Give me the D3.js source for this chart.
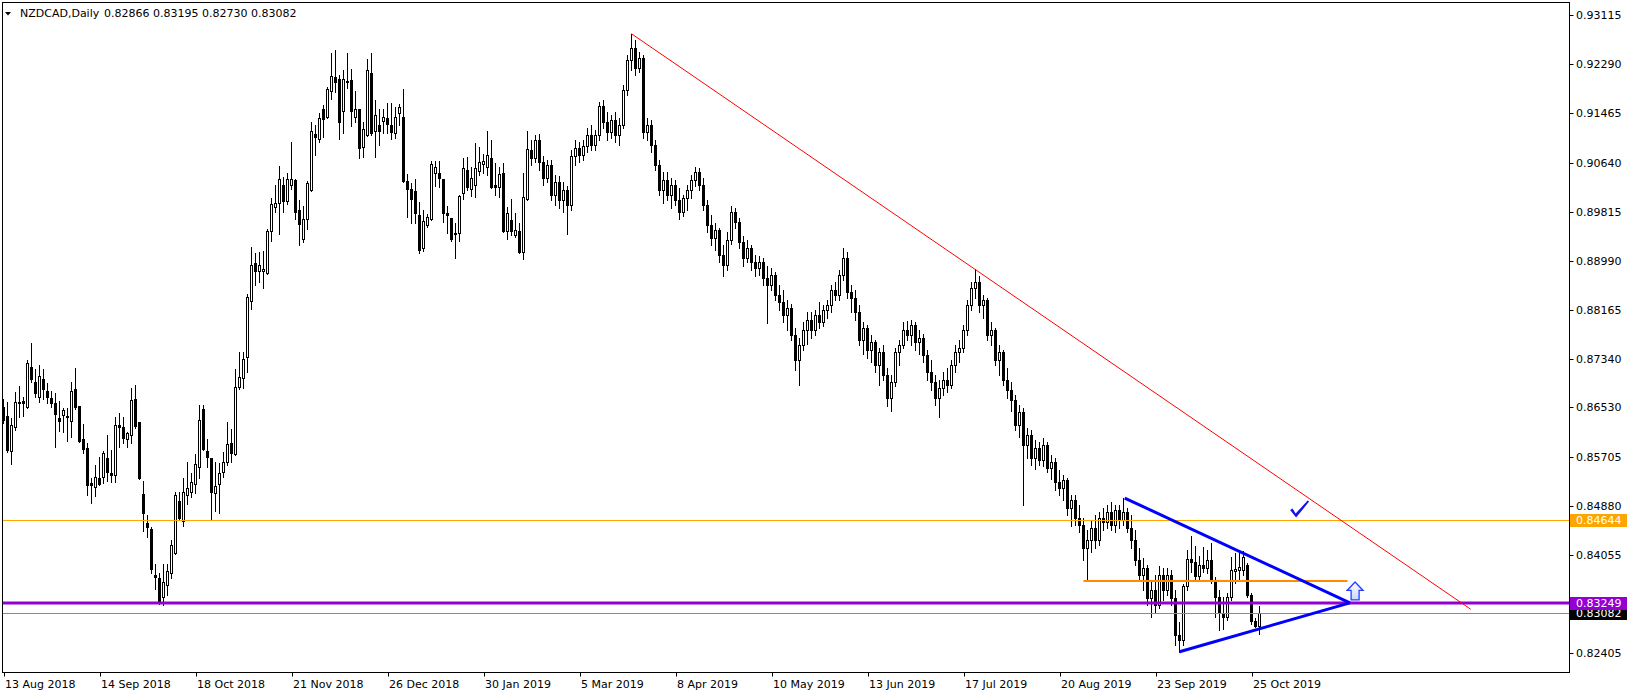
<!DOCTYPE html>
<html><head><meta charset="utf-8">
<script src="https://cdn.jsdelivr.net/npm/d3@7"></script>
<style>
body{margin:0;background:#fff}
svg{display:block}
text{font-family:"DejaVu Sans",Verdana,sans-serif;font-size:11px}
</style></head>
<body><svg id="c" width="1633" height="696"></svg>
<script>
const symbolTitle = "NZDCAD,Daily";
const headerValues = ["0.82866", "0.83195", "0.82730", "0.83082"];

const opens = [
0.8654,0.8639,0.8580,0.8620,0.8660,0.8664,0.8654,0.8721,0.8696,0.8671,
0.8701,0.8681,0.8669,0.8660,0.8635,0.8640,0.8639,0.8630,0.8684,0.8655,
0.8600,0.8585,0.8526,0.8520,0.8535,0.8536,0.8568,0.8543,0.8540,0.8624,
0.8620,0.8600,0.8607,0.8667,0.8629,0.8508,0.8459,0.8449,0.8372,0.8367,
0.8335,0.8355,0.8375,0.8409,0.8496,0.8462,0.8506,0.8511,0.8525,0.8553,
0.8650,0.8580,0.8568,0.8509,0.8525,0.8545,0.8561,0.8593,0.8575,0.8687,
0.8702,0.8738,0.8832,0.8895,0.8882,0.8882,0.8879,0.8949,0.8989,0.8996,
0.9026,0.8999,0.9026,0.9035,0.8984,0.8936,0.8969,0.9018,0.9112,0.9103,
0.9154,0.9140,0.9184,0.9208,0.9204,0.9150,0.9199,0.9203,0.9140,0.9154,
0.9090,0.9110,0.9214,0.9117,0.9127,0.9134,0.9139,0.9127,0.9114,0.9147,
0.9140,0.9033,0.9020,0.9016,0.8976,0.8921,0.8959,0.8969,0.9046,0.9046,
0.9036,0.8979,0.8971,0.8946,0.8946,0.9013,0.9051,0.9020,0.9026,0.9050,
0.9061,0.9056,0.9072,0.9026,0.9023,0.9046,0.8949,0.8968,0.8942,0.8949,
0.8914,0.9003,0.9085,0.9072,0.9102,0.9065,0.9038,0.9060,0.9009,0.9031,
0.9001,0.9018,0.8993,0.9075,0.9088,0.9077,0.9092,0.9110,0.9093,0.9110,
0.9159,0.9132,0.9115,0.9135,0.9110,0.9127,0.9186,0.9236,0.9256,0.9223,
0.9239,0.9115,0.9127,0.9093,0.9060,0.9018,0.9035,0.9009,0.9026,0.9001,
0.8981,0.9004,0.9018,0.9035,0.9048,0.9026,0.8993,0.8959,0.8937,0.8951,
0.8909,0.8892,0.8934,0.8981,0.8964,0.8930,0.8904,0.8921,0.8897,0.8887,
0.8897,0.8870,0.8858,0.8875,0.8842,0.8830,0.8808,0.8820,0.8775,0.8733,
0.8758,0.8783,0.8800,0.8783,0.8808,0.8796,0.8817,0.8825,0.8850,0.8842,
0.8875,0.8904,0.8846,0.8837,0.8813,0.8766,0.8786,0.8749,0.8763,0.8724,
0.8746,0.8707,0.8669,0.8696,0.8746,0.8758,0.8783,0.8775,0.8791,0.8763,
0.8770,0.8741,0.8712,0.8696,0.8669,0.8686,0.8699,0.8691,0.8724,0.8746,
0.8753,0.8783,0.8825,0.8853,0.8864,0.8825,0.8833,0.8775,0.8783,0.8733,
0.8746,0.8699,0.8682,0.8666,0.8624,0.8645,0.8590,0.8607,0.8568,0.8585,
0.8565,0.8590,0.8551,0.8561,0.8528,0.8518,0.8531,0.8484,0.8498,0.8468,
0.8456,0.8417,0.8431,0.8451,0.8431,0.8468,0.8461,0.8478,0.8456,0.8481,
0.8464,0.8478,0.8451,0.8431,0.8397,0.8372,0.8383,0.8333,0.8347,0.8322,
0.8372,0.8347,0.8372,0.8333,0.8271,0.8263,0.8353,0.8399,0.8394,0.8370,
0.8389,0.8384,0.8397,0.8364,0.8335,0.8308,0.8301,0.8335,0.8378,0.8380,
0.8380,0.8389,0.8338,0.8295,0.82866];

const highs = [
0.8667,0.8662,0.8635,0.8679,0.8689,0.8671,0.8733,0.8761,0.8718,0.8724,
0.8718,0.8694,0.8681,0.8677,0.8664,0.8652,0.8652,0.8696,0.8719,0.8656,
0.8625,0.8593,0.8535,0.8556,0.8570,0.8580,0.8607,0.8582,0.8637,0.8644,
0.8637,0.8612,0.8686,0.8691,0.8629,0.8530,0.8473,0.8452,0.8390,0.8375,
0.8390,0.8390,0.8431,0.8511,0.8511,0.8535,0.8561,0.8543,0.8575,0.8657,
0.8657,0.8600,0.8568,0.8561,0.8560,0.8578,0.8629,0.8617,0.8718,0.8746,
0.8746,0.8843,0.8922,0.8912,0.8914,0.8916,0.8952,0.9004,0.9026,0.9058,
0.9040,0.9046,0.9098,0.9036,0.9001,0.8991,0.9033,0.9132,0.9127,0.9147,
0.9161,0.9191,0.9248,0.9253,0.9211,0.9219,0.9248,0.9221,0.9184,0.9154,
0.9132,0.9238,0.9248,0.9169,0.9154,0.9154,0.9164,0.9164,0.9157,0.9162,
0.9187,0.9045,0.9030,0.9036,0.8998,0.8984,0.8978,0.9067,0.9067,0.9067,
0.9036,0.8991,0.8971,0.8963,0.9009,0.9072,0.9073,0.9056,0.9097,0.9090,
0.9078,0.9117,0.9102,0.9063,0.9056,0.9063,0.8989,0.9003,0.8979,0.8963,
0.9046,0.9117,0.9102,0.9110,0.9112,0.9075,0.9068,0.9068,0.9043,0.9041,
0.9031,0.9025,0.9085,0.9102,0.9098,0.9102,0.9122,0.9127,0.9119,0.9166,
0.9169,0.9149,0.9144,0.9149,0.9139,0.9194,0.9244,0.9280,0.9270,0.9249,
0.9244,0.9139,0.9135,0.9102,0.9068,0.9048,0.9048,0.9038,0.9035,0.9021,
0.9009,0.9026,0.9043,0.9056,0.9055,0.9038,0.9001,0.8976,0.8963,0.8954,
0.8926,0.8947,0.8991,0.8988,0.8971,0.8940,0.8934,0.8926,0.8909,0.8907,
0.8904,0.8890,0.8887,0.8880,0.8858,0.8850,0.8833,0.8826,0.8786,0.8770,
0.8796,0.8813,0.8813,0.8817,0.8830,0.8825,0.8833,0.8858,0.8864,0.8884,
0.8921,0.8914,0.8858,0.8850,0.8825,0.8796,0.8791,0.8775,0.8766,0.8753,
0.8758,0.8719,0.8707,0.8753,0.8766,0.8796,0.8798,0.8800,0.8796,0.8783,
0.8776,0.8749,0.8733,0.8707,0.8699,0.8712,0.8719,0.8733,0.8758,0.8766,
0.8791,0.8833,0.8864,0.8885,0.8874,0.8842,0.8837,0.8796,0.8786,0.8758,
0.8749,0.8719,0.8696,0.8674,0.8657,0.8652,0.8619,0.8615,0.8598,0.8595,
0.8602,0.8595,0.8573,0.8568,0.8548,0.8540,0.8535,0.8506,0.8506,0.8489,
0.8468,0.8447,0.8464,0.8473,0.8478,0.8484,0.8489,0.8494,0.8489,0.8489,
0.8501,0.8484,0.8473,0.8447,0.8417,0.8400,0.8389,0.8364,0.8372,0.8387,
0.8384,0.8384,0.8380,0.8347,0.8293,0.8357,0.8414,0.8437,0.8421,0.8404,
0.8419,0.8414,0.8426,0.8369,0.8347,0.8335,0.8342,0.8402,0.8409,0.8412,
0.8412,0.8392,0.8342,0.8300,0.83195];

const lows = [
0.8627,0.8578,0.8558,0.8615,0.8637,0.8639,0.8652,0.8696,0.8671,0.8662,
0.8667,0.8660,0.8654,0.8587,0.8613,0.8612,0.8597,0.8603,0.8650,0.8595,
0.8577,0.8506,0.8493,0.8504,0.8523,0.8526,0.8530,0.8528,0.8528,0.8587,
0.8593,0.8587,0.8593,0.8619,0.8533,0.8446,0.8436,0.8375,0.8348,0.8323,
0.8322,0.8338,0.8367,0.8407,0.8464,0.8454,0.8491,0.8503,0.8509,0.8535,
0.8582,0.8553,0.8466,0.8479,0.8476,0.8536,0.8556,0.8561,0.8573,0.8684,
0.8686,0.8712,0.8818,0.8858,0.8864,0.8853,0.8877,0.8932,0.8981,0.8944,
0.8981,0.8994,0.9020,0.8969,0.8926,0.8930,0.8952,0.9016,0.9077,0.9098,
0.9107,0.9139,0.9171,0.9182,0.9104,0.9114,0.9189,0.9125,0.9132,0.9072,
0.9073,0.9108,0.9110,0.9073,0.9093,0.9114,0.9114,0.9104,0.9105,0.9127,
0.9031,0.8973,0.8963,0.8963,0.8912,0.8916,0.8956,0.8968,0.9025,0.9023,
0.8964,0.8946,0.8932,0.8904,0.8932,0.9003,0.9018,0.9008,0.9006,0.9043,
0.9046,0.9043,0.9021,0.9009,0.9006,0.8947,0.8936,0.8942,0.8939,0.8912,
0.8902,0.9001,0.9060,0.9065,0.9051,0.9026,0.9031,0.9001,0.8993,0.8988,
0.8981,0.8944,0.8984,0.9060,0.9065,0.9068,0.9082,0.9085,0.9085,0.9102,
0.9122,0.9102,0.9105,0.9098,0.9093,0.9122,0.9177,0.9219,0.9211,0.9216,
0.9105,0.9102,0.9082,0.9051,0.9009,0.8996,0.9001,0.8988,0.8993,0.8969,
0.8974,0.8984,0.9004,0.9025,0.9018,0.8984,0.8947,0.8926,0.8917,0.8897,
0.8873,0.8884,0.8927,0.8954,0.8921,0.8890,0.8897,0.8884,0.8873,0.8876,
0.8858,0.8795,0.8850,0.8833,0.8817,0.8796,0.8783,0.8766,0.8716,0.8691,
0.8749,0.8760,0.8770,0.8775,0.8786,0.8789,0.8803,0.8813,0.8833,0.8833,
0.8867,0.8837,0.8813,0.8800,0.8758,0.8743,0.8736,0.8729,0.8712,0.8691,
0.8699,0.8655,0.8647,0.8689,0.8724,0.8753,0.8766,0.8758,0.8749,0.8743,
0.8729,0.8699,0.8682,0.8657,0.8637,0.8674,0.8679,0.8686,0.8712,0.8729,
0.8746,0.8775,0.8817,0.8837,0.8813,0.8803,0.8766,0.8758,0.8724,0.8707,
0.8691,0.8669,0.8647,0.8615,0.8604,0.8489,0.8568,0.8556,0.8550,0.8556,
0.8555,0.8545,0.8533,0.8515,0.8506,0.8498,0.8473,0.8454,0.8456,0.8444,
0.8397,0.8364,0.8410,0.8417,0.8422,0.8447,0.8451,0.8447,0.8444,0.8451,
0.8456,0.8444,0.8417,0.8389,0.8364,0.8347,0.8322,0.8301,0.8310,0.8316,
0.8330,0.8338,0.8322,0.8254,0.8243,0.8254,0.8347,0.8377,0.8364,0.8364,
0.8377,0.8375,0.8358,0.8301,0.8280,0.8281,0.8296,0.8330,0.8358,0.8364,
0.8372,0.8335,0.8290,0.8284,0.82730];

const closes = [
0.8632,0.8582,0.8624,0.8662,0.8662,0.8660,0.8728,0.8701,0.8677,0.8706,
0.8684,0.8671,0.8660,0.8642,0.8630,0.8649,0.8637,0.8681,0.8654,0.8597,
0.8583,0.8523,0.8523,0.8536,0.8525,0.8577,0.8545,0.8540,0.8624,0.8620,
0.8602,0.8610,0.8666,0.8622,0.8535,0.8476,0.8452,0.8382,0.8369,0.8325,
0.8360,0.8379,0.8422,0.8506,0.8468,0.8511,0.8518,0.8528,0.8558,0.8632,
0.8583,0.8570,0.8511,0.8521,0.8543,0.8561,0.8592,0.8577,0.8687,0.8704,
0.8734,0.8838,0.8892,0.8882,0.8892,0.8885,0.8949,0.8994,0.8996,0.9036,
0.8999,0.9036,0.9036,0.8981,0.8961,0.8969,0.9030,0.9117,0.9107,0.9139,
0.9137,0.9187,0.9209,0.9199,0.9132,0.9204,0.9201,0.9150,0.9154,0.9088,
0.9120,0.9219,0.9114,0.9144,0.9117,0.9140,0.9129,0.9115,0.9140,0.9157,
0.9033,0.9020,0.9003,0.8979,0.8917,0.8966,0.8973,0.9061,0.9056,0.9038,
0.8979,0.8976,0.8936,0.8944,0.9008,0.9055,0.9023,0.9038,0.9055,0.9065,
0.9067,0.9077,0.9023,0.9023,0.9045,0.8949,0.8979,0.8949,0.8951,0.8914,
0.9006,0.9087,0.9072,0.9102,0.9065,0.9038,0.9060,0.9009,0.9031,0.9001,
0.9018,0.8993,0.9075,0.9088,0.9077,0.9092,0.9110,0.9093,0.9110,0.9159,
0.9132,0.9115,0.9135,0.9110,0.9127,0.9186,0.9236,0.9256,0.9223,0.9239,
0.9115,0.9127,0.9093,0.9060,0.9018,0.9035,0.9009,0.9026,0.9001,0.8981,
0.9004,0.9018,0.9035,0.9048,0.9026,0.8993,0.8959,0.8937,0.8951,0.8909,
0.8892,0.8934,0.8981,0.8964,0.8930,0.8904,0.8921,0.8897,0.8887,0.8897,
0.8870,0.8858,0.8875,0.8842,0.8830,0.8808,0.8820,0.8775,0.8733,0.8758,
0.8783,0.8800,0.8783,0.8808,0.8796,0.8817,0.8825,0.8850,0.8842,0.8875,
0.8904,0.8846,0.8837,0.8813,0.8766,0.8786,0.8749,0.8763,0.8724,0.8746,
0.8707,0.8669,0.8696,0.8746,0.8758,0.8783,0.8775,0.8791,0.8763,0.8770,
0.8741,0.8712,0.8696,0.8669,0.8686,0.8699,0.8691,0.8724,0.8746,0.8753,
0.8783,0.8825,0.8853,0.8864,0.8825,0.8833,0.8775,0.8783,0.8733,0.8746,
0.8699,0.8682,0.8666,0.8624,0.8645,0.8590,0.8607,0.8568,0.8585,0.8565,
0.8590,0.8551,0.8561,0.8528,0.8518,0.8531,0.8484,0.8498,0.8468,0.8456,
0.8417,0.8431,0.8451,0.8431,0.8468,0.8461,0.8478,0.8456,0.8481,0.8464,
0.8478,0.8451,0.8431,0.8397,0.8372,0.8383,0.8333,0.8347,0.8322,0.8372,
0.8347,0.8372,0.8333,0.8271,0.8263,0.8353,0.8399,0.8394,0.8370,0.8389,
0.8384,0.8397,0.8364,0.8335,0.8308,0.8301,0.8335,0.8380,0.8382,0.8385,
0.8402,0.8338,0.8295,0.82866,0.83082];

const xTickBars = [0,24,48,72,96,120,144,168,192,216,240,264,288,312];
const xTickLabels = ["13 Aug 2018","14 Sep 2018","18 Oct 2018","21 Nov 2018","26 Dec 2018","30 Jan 2019","5 Mar 2019","8 Apr 2019","10 May 2019","13 Jun 2019","17 Jul 2019","20 Aug 2019","23 Sep 2019","25 Oct 2019"];
const yTickValues = [0.93115,0.92290,0.91465,0.90640,0.89815,0.88990,0.88165,0.87340,0.86530,0.85705,0.84880,0.84055,0.82405];
const yTickLabels = ["0.93115","0.92290","0.91465","0.90640","0.89815","0.88990","0.88165","0.87340","0.86530","0.85705","0.84880","0.84055","0.82405"];

const resistanceLevel = 0.84644;
const supportLevel = 0.83249;
const bidLevel = 0.83082;
const rangeLineBars = [270, 336];
const rangeLinePrice = 0.83624;
const redTrendBars = [157, 366.8];
const redTrendPrices = [0.9280, 0.83144];
const upperTriBars = [280.3, 336.6];
const upperTriPrices = [0.8501, 0.83252];
const lowerTriBars = [294, 336.6];
const lowerTriPrices = [0.8243, 0.83252];
const checkMark = {bar: 322.9, price: 0.8469};
const upArrow = {bar: 337.9, price: 0.8330};

const W = 1633, H = 696;
const svg = d3.select("#c");
const x = d3.scaleLinear().domain([0, 314]).range([3.5, 1259.5]);
const y = d3.scaleLinear().domain([0.82405, 0.93115]).range([653.3, 15]);
const PL = 2.5, PT = 2.5, PR = 1569.5, PB = 672.5;

svg.append("rect").attr("width", W).attr("height", H).attr("fill", "#fff");
const defs = svg.append("defs");
defs.append("clipPath").attr("id", "clip").append("rect")
  .attr("x", PL + 0.5).attr("y", PT + 0.5).attr("width", PR - PL - 1).attr("height", PB - PT - 1);
const grad = defs.append("linearGradient").attr("id","ag").attr("x1",0).attr("y1",0).attr("x2",0).attr("y2",1);
grad.append("stop").attr("offset","0%").attr("stop-color","#ffffff");
grad.append("stop").attr("offset","100%").attr("stop-color","#c9d6ff");

const g = svg.append("g").attr("clip-path", "url(#clip)");

// candles
const bars = d3.range(opens.length).map(i => ({i, o: opens[i], h: highs[i], l: lows[i], c: closes[i]}));
const cg = g.append("g");
cg.selectAll("rect.w").data(bars).join("rect").attr("class","w")
  .attr("x", d => x(d.i) - 0.5).attr("width", 1)
  .attr("y", d => Math.round(y(d.h)))
  .attr("height", d => Math.round(y(d.l)) - Math.round(y(d.h)) + 1)
  .attr("fill", "#000");
cg.selectAll("rect.b").data(bars).join("rect").attr("class","b")
  .each(function(d) {
    const yt = Math.round(y(Math.max(d.o, d.c)));
    const yb = Math.round(y(Math.min(d.o, d.c)));
    const s = d3.select(this);
    if (d.c < d.o || yb - yt < 1) {
      s.attr("x", x(d.i) - 1.5).attr("width", 3).attr("y", yt).attr("height", Math.max(1, yb - yt + 1)).attr("fill", "#000");
    } else {
      s.attr("x", x(d.i) - 1).attr("width", 2).attr("y", yt + 0.5).attr("height", yb - yt)
        .attr("fill", "#fff").attr("stroke", "#000").attr("stroke-width", 1);
    }
  });

// horizontal levels
const hy = v => Math.round(y(v)) + 0.5;
g.append("line").attr("x1", PL).attr("x2", PR).attr("y1", hy(bidLevel)).attr("y2", hy(bidLevel))
  .attr("stroke", "#7f8c99").attr("stroke-width", 1);
g.append("line").attr("x1", PL).attr("x2", PR).attr("y1", hy(resistanceLevel)).attr("y2", hy(resistanceLevel))
  .attr("stroke", "#FFA500").attr("stroke-width", 1);
g.append("line").attr("x1", PL).attr("x2", PR).attr("y1", Math.round(y(supportLevel))).attr("y2", Math.round(y(supportLevel)))
  .attr("stroke", "#9400D3").attr("stroke-width", 3);

// short orange range line
g.append("line").attr("x1", x(rangeLineBars[0])).attr("x2", x(rangeLineBars[1]))
  .attr("y1", Math.round(y(rangeLinePrice))).attr("y2", Math.round(y(rangeLinePrice)))
  .attr("stroke", "#FF8C00").attr("stroke-width", 2);

// red trend line
g.append("line").attr("x1", x(redTrendBars[0])).attr("y1", y(redTrendPrices[0]))
  .attr("x2", x(redTrendBars[1])).attr("y2", y(redTrendPrices[1]))
  .attr("stroke", "#FF0000").attr("stroke-width", 1);

// blue triangle
g.append("line").attr("x1", x(upperTriBars[0])).attr("y1", y(upperTriPrices[0]))
  .attr("x2", x(upperTriBars[1])).attr("y2", y(upperTriPrices[1]))
  .attr("stroke", "#0000FF").attr("stroke-width", 3);
g.append("line").attr("x1", x(lowerTriBars[0])).attr("y1", y(lowerTriPrices[0]))
  .attr("x2", x(lowerTriBars[1])).attr("y2", y(lowerTriPrices[1]))
  .attr("stroke", "#0000FF").attr("stroke-width", 3);

// check mark
const cx0 = x(checkMark.bar), cy0 = y(checkMark.price);
g.append("path").attr("transform", `translate(${cx0},${cy0})`)
  .attr("d", "M-5,-7 L-2.5,-8.5 L0.5,-3.5 L12.5,-16.5 L14,-15.5 L1,0.5 Z")
  .attr("fill", "#1414e6");

// up arrow
const ax = x(upArrow.bar), ay = y(upArrow.price);
g.append("path").attr("transform", `translate(${ax},${ay})`)
  .attr("d", "M0,-18 L8,-9.5 L4,-9.5 L4,0 L-4,0 L-4,-9.5 L-8,-9.5 Z")
  .attr("fill", "url(#ag)").attr("stroke", "#2a3cff").attr("stroke-width", 1.3).attr("stroke-linejoin","miter");

// frame
svg.append("rect").attr("x", PL).attr("y", PT).attr("width", PR - PL).attr("height", PB - PT)
  .attr("fill", "none").attr("stroke", "#000").attr("stroke-width", 1);

// y axis
const ya = svg.append("g");
yTickValues.forEach((v, i) => {
  const yy = Math.round(y(v)) + 0.5;
  ya.append("line").attr("x1", PR).attr("x2", PR + 4).attr("y1", yy).attr("y2", yy).attr("stroke", "#000");
  ya.append("text").attr("x", 1576).attr("y", yy).attr("dy", "0.36em").attr("fill", "#000").text(yTickLabels[i]);
});

// x axis
const xa = svg.append("g");
xTickBars.forEach((b, i) => {
  const xx = Math.round(x(b)) + 0.5;
  xa.append("line").attr("x1", xx).attr("x2", xx).attr("y1", PB).attr("y2", PB + 4).attr("stroke", "#000");
  xa.append("text").attr("x", xx + 0.5).attr("y", 688).attr("fill", "#000").text(xTickLabels[i]);
});

// price labels on right axis
function priceLabel(v, bg) {
  const yy = Math.round(y(v));
  svg.append("rect").attr("x", 1570).attr("y", yy - 6).attr("width", 57).attr("height", 13).attr("fill", bg);
  svg.append("text").attr("x", 1576).attr("y", yy + 0.5).attr("dy", "0.36em").attr("fill", "#fff").text(v.toFixed(5));
}
priceLabel(bidLevel, "#000");
priceLabel(resistanceLevel, "#FFA500");
priceLabel(supportLevel, "#9400D3");

// header
svg.append("path").attr("d", "M5,12 L11,12 L8,15.5 Z").attr("fill", "#000");
svg.append("text").attr("x", 20).attr("y", 17).attr("fill", "#000").text(symbolTitle);
svg.append("text").attr("x", 104).attr("y", 17).attr("fill", "#000").text(headerValues.join(" "));
</script>
</body></html>
